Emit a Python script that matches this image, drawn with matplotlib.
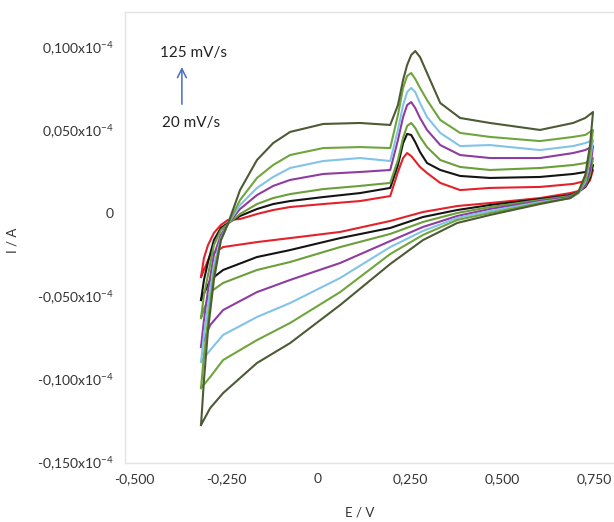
import matplotlib
matplotlib.use("Agg")
import matplotlib.pyplot as plt

plt.rcParams['font.family'] = ['Lato', 'DejaVu Sans']
plt.rcParams['mathtext.fontset'] = 'custom'
plt.rcParams['mathtext.rm'] = 'Lato'
plt.rcParams['mathtext.it'] = 'Lato:italic'
plt.rcParams['mathtext.bf'] = 'Lato:bold'

# potential grid (V): forward scan from the left vertex to the right vertex
e_up = [-0.318, -0.310, -0.299, -0.283, -0.264, -0.245, -0.212, -0.166, -0.122, -0.076,
        0.014, 0.114, 0.196, 0.217, 0.231, 0.242, 0.253, 0.264, 0.277, 0.296,
        0.332, 0.386, 0.467, 0.603, 0.693, 0.726, 0.747]
# reverse scan, right vertex back to the left vertex
e_down = [0.739, 0.726, 0.707, 0.685, 0.603, 0.467, 0.378, 0.285, 0.196, 0.060,
          -0.076, -0.166, -0.258, -0.293, -0.318]

# currents in microampere (1e-6 A)
i_up_20 = [-3.85, -2.71, -1.93, -1.20, -0.72, -0.42, -0.36, -0.06, 0.18, 0.36, 0.54, 0.72, 1.02,
           2.47, 3.31, 3.61, 3.43, 3.13, 2.77, 2.41, 1.81, 1.38, 1.51, 1.57, 1.75, 1.93, 2.59]
i_dn_20 = [1.99, 1.57, 1.32, 1.20, 0.90, 0.60, 0.42, 0.06, -0.48, -1.14, -1.51, -1.75, -2.05, -2.53, -3.85]

i_up_2 = [-5.24, -4.03, -2.95, -1.63, -0.90, -0.60, -0.18, 0.24, 0.54, 0.72, 0.96, 1.20, 1.51,
          2.89, 4.21, 4.76, 4.70, 4.27, 3.67, 3.01, 2.59, 2.23, 2.11, 2.17, 2.35, 2.47, 2.89]
i_dn_2 = [2.11, 1.57, 1.26, 1.08, 0.84, 0.48, 0.18, -0.24, -0.90, -1.51, -2.23, -2.65, -3.43, -4.03, -5.24]

i_up_3 = [-6.32, -4.94, -3.73, -1.93, -1.02, -0.66, -0.06, 0.54, 0.90, 1.14, 1.44, 1.63, 1.81,
          3.19, 4.52, 5.24, 5.42, 5.12, 4.58, 3.97, 3.19, 2.77, 2.59, 2.71, 2.89, 3.01, 3.31]
i_dn_3 = [2.29, 1.63, 1.26, 1.02, 0.78, 0.36, 0.00, -0.54, -1.26, -2.05, -2.95, -3.43, -4.21, -4.76, -6.32]

i_up_4 = [-8.07, -6.44, -4.64, -2.53, -1.32, -0.66, 0.24, 1.08, 1.63, 1.99, 2.35, 2.47, 2.59,
          4.39, 5.78, 6.50, 6.68, 6.32, 5.72, 5.00, 4.09, 3.49, 3.31, 3.31, 3.61, 3.79, 4.03]
i_dn_4 = [2.59, 1.69, 1.20, 0.96, 0.72, 0.24, -0.18, -0.84, -1.69, -3.01, -4.03, -4.76, -5.84, -6.74, -8.07]

i_up_5 = [-8.97, -7.34, -5.54, -3.13, -1.51, -0.66, 0.48, 1.51, 2.17, 2.71, 3.13, 3.31, 3.13,
          5.00, 6.50, 7.28, 7.53, 7.28, 6.62, 5.78, 4.82, 4.03, 4.09, 3.79, 4.03, 4.21, 4.39]
i_dn_5 = [3.19, 1.87, 1.20, 0.90, 0.66, 0.12, -0.30, -1.08, -2.05, -3.91, -5.42, -6.26, -7.34, -8.25, -8.97]

i_up_6 = [-10.54, -8.55, -6.44, -3.55, -1.63, -0.66, 0.78, 2.11, 2.89, 3.49, 3.91, 3.97, 3.91,
          5.90, 7.53, 8.25, 8.43, 8.07, 7.53, 6.80, 5.60, 4.82, 4.58, 4.33, 4.58, 4.70, 5.00]
i_dn_6 = [3.49, 1.99, 1.20, 0.90, 0.60, 0.00, -0.42, -1.32, -2.47, -4.76, -6.62, -7.65, -8.85, -9.87, -10.54]

i_up_125 = [-12.76, -10.05, -7.04, -4.03, -1.63, -0.66, 1.38, 3.19, 4.21, 4.88, 5.36, 5.42, 5.30,
            6.50, 8.01, 8.91, 9.51, 9.75, 9.39, 8.43, 6.62, 5.72, 5.42, 5.00, 5.42, 5.72, 6.08]
i_dn_125 = [4.09, 2.29, 1.26, 0.90, 0.54, -0.12, -0.60, -1.63, -3.07, -5.54, -7.83, -9.03, -10.84, -11.74, -12.76]

curves = [
    (i_up_20, i_dn_20, '#e3222b'),
    (i_up_2, i_dn_2, '#141414'),
    (i_up_3, i_dn_3, '#6b9f3b'),
    (i_up_4, i_dn_4, '#8e3c9f'),
    (i_up_5, i_dn_5, '#82c3e8'),
    (i_up_6, i_dn_6, '#70a53e'),
    (i_up_125, i_dn_125, '#4c5b35'),
]

x_ticks = [-0.5, -0.25, 0, 0.25, 0.5, 0.75]
x_labels = ['-0,500', '-0,250', '0', '0,250', '0,500', '0,750']
y_ticks = [-15, -10, -5, 0, 5, 10]
y_labels = ['-0,150x10$^{-4}$', '-0,100x10$^{-4}$', '-0,050x10$^{-4}$', '0',
            '0,050x10$^{-4}$', '0,100x10$^{-4}$']

fig = plt.figure(figsize=(6.14, 5.22), dpi=100)
ax = fig.add_axes([0.2036, 0.113, 0.7964, 0.864])

for up, dn, col in curves:
    ax.plot(e_up + e_down, up + dn, color=col, lw=1.5)

ax.set_xlim(-0.5245, 0.804)
ax.set_ylim(-15.05, 12.1)
ax.set_xticks(x_ticks)
ax.set_xticklabels(x_labels)
ax.set_yticks(y_ticks)
ax.set_yticklabels(y_labels)
ax.tick_params(length=0, labelsize=10, colors='#333333')
ax.tick_params(axis='x', pad=7)
ax.tick_params(axis='y', pad=8)

for s in ['left', 'bottom', 'top']:
    ax.spines[s].set_color('#e4e4e4')
    ax.spines[s].set_linewidth(1)
ax.spines['right'].set_visible(False)

# scan rate annotation
ax.text(-0.429, 9.63, '125 mV/s', fontsize=11, va='center', color='#222222')
ax.text(-0.424, 5.42, '20 mV/s', fontsize=11, va='center', color='#222222')
ax.annotate('', xy=(-0.370, 8.95), xytext=(-0.370, 6.38),
            arrowprops=dict(arrowstyle='->', color='#4a6cc8', lw=1.1, mutation_scale=16))

fig.text(0.586, 0.019, 'E / V', ha='center', va='center', fontsize=9.5, color='#333333')
fig.text(0.02, 0.54, 'I / A', ha='center', va='center', rotation=90, fontsize=9.5, color='#333333')

fig.savefig('out.png', dpi=100)
